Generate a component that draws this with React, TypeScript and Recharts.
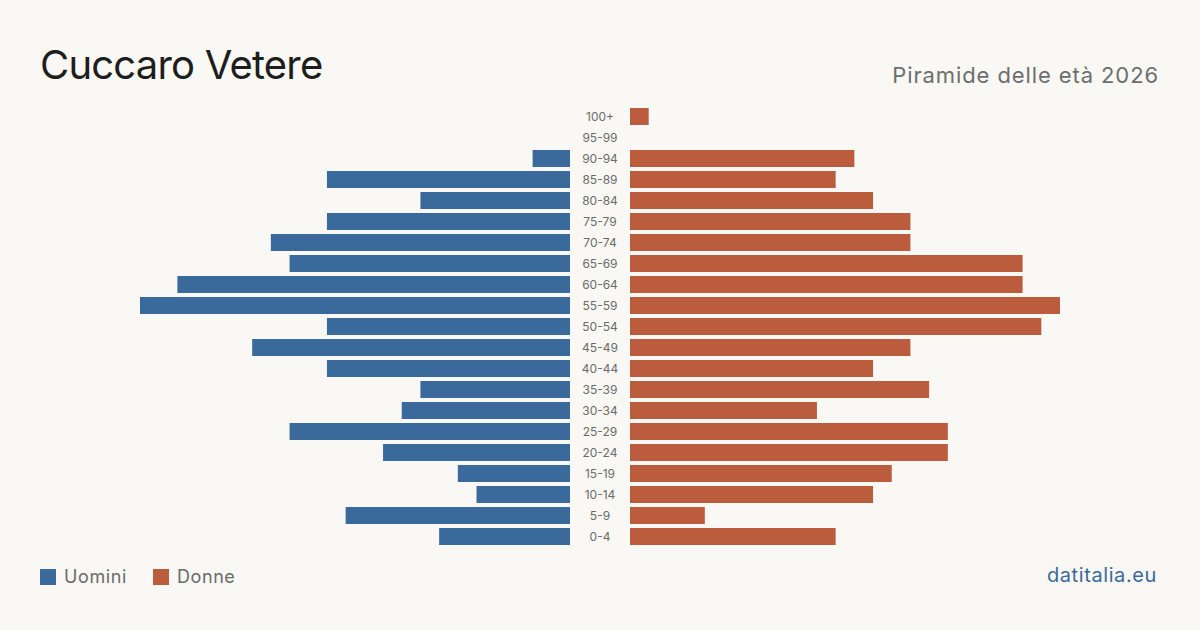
import { BarChart, Bar, XAxis, YAxis } from "recharts"

const ageGroups = ["100+", "95-99", "90-94", "85-89", "80-84", "75-79", "70-74", "65-69", "60-64", "55-59", "50-54", "45-49", "40-44", "35-39", "30-34", "25-29", "20-24", "15-19", "10-14", "5-9", "0-4"]
const uomini = [0, 0, 2, 13, 8, 13, 16, 15, 21, 23, 13, 17, 13, 8, 9, 15, 10, 6, 5, 12, 7]
const donne = [1, 0, 12, 11, 13, 15, 15, 21, 21, 23, 22, 15, 13, 16, 10, 17, 17, 14, 13, 4, 11]

const data = ageGroups.map((eta, i) => ({ eta, uomini: uomini[i], donne: donne[i] }))

const BLUE = "#3a6a9b"
const ORANGE = "#bb5d3d"
const FONT = "Inter, 'Noto Sans', sans-serif"
const MAX = 23
const ROW_H = 441

const AgeTick = ({ y, payload }: any) => (
  <text x={30} y={y} dy={4} textAnchor="middle" fontSize={12} fill="#6b6b6b" fontFamily={FONT}>
    {payload.value}
  </text>
)

export default function App() {
  return (
    <div style={{ position: "absolute", left: 0, top: 0, width: 1200, height: 630, background: "#f9f8f4", fontFamily: FONT, overflow: "hidden" }}>
      <div style={{ position: "absolute", left: 40, top: 40, fontSize: 40, color: "#1e1e1e", letterSpacing: -0.8 }}>Cuccaro Vetere</div>
      <div style={{ position: "absolute", right: 41, top: 62, fontSize: 22, color: "#6e6e6e", letterSpacing: 0.9 }}>Piramide delle età 2026</div>

      {/* uomini: grows leftwards from the centre column */}
      <div style={{ position: "absolute", left: 140, top: 106 }}>
        <BarChart width={430} height={ROW_H} data={data} layout="vertical" margin={{ top: 0, right: 0, bottom: 0, left: 0 }}>
          <XAxis type="number" domain={[0, MAX]} reversed hide />
          <YAxis type="category" dataKey="eta" hide />
          <Bar dataKey="uomini" fill={BLUE} barSize={17} isAnimationActive={false} />
        </BarChart>
      </div>

      {/* donne, with the age labels in the gap */}
      <div style={{ position: "absolute", left: 570, top: 106 }}>
        <BarChart width={490} height={ROW_H} data={data} layout="vertical" margin={{ top: 0, right: 0, bottom: 0, left: 0 }}>
          <XAxis type="number" domain={[0, MAX]} hide />
          <YAxis type="category" dataKey="eta" width={60} axisLine={false} tickLine={false} tick={<AgeTick />} interval={0} />
          <Bar dataKey="donne" fill={ORANGE} barSize={17} isAnimationActive={false} />
        </BarChart>
      </div>

      <div style={{ position: "absolute", left: 40, top: 566, display: "flex", alignItems: "center", fontSize: 18, color: "#6b6b6b", letterSpacing: 0.6 }}>
        <span style={{ width: 16, height: 16, background: BLUE, display: "inline-block", marginRight: 8 }} />
        <span>Uomini</span>
        <span style={{ width: 16, height: 16, background: ORANGE, display: "inline-block", marginLeft: 26, marginRight: 8 }} />
        <span>Donne</span>
      </div>
      <div style={{ position: "absolute", right: 43, top: 563, fontSize: 20, color: BLUE, letterSpacing: 0.6 }}>datitalia.eu</div>
    </div>
  )
}
